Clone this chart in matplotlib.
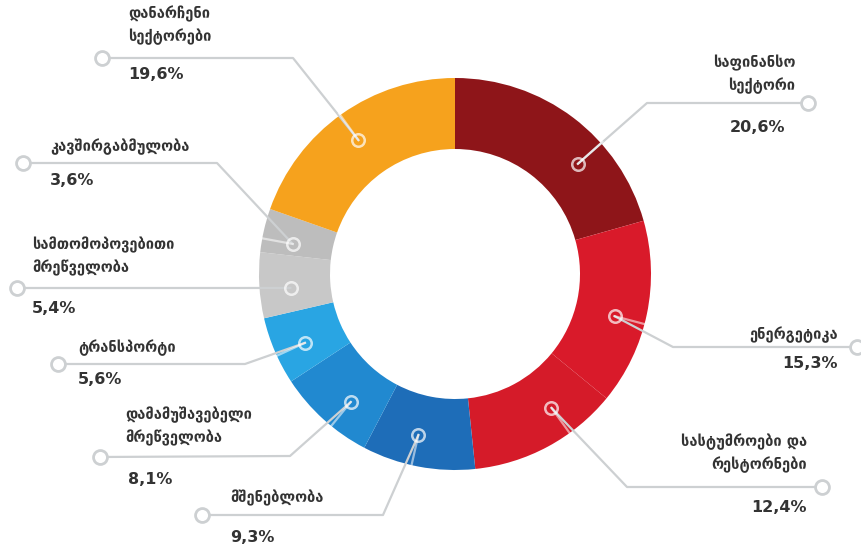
import numpy as np
import matplotlib.pyplot as plt

# sector shares, clockwise from the top
sectors = ["საფინანსო\nსექტორი", "ენერგეტიკა", "სასტუმროები და\nრესტორნები",
           "მშენებლობა", "დამამუშავებელი\nმრეწველობა", "ტრანსპორტი",
           "სამთომოპოვებითი\nმრეწველობა", "კავშირგაბმულობა",
           "დანარჩენი\nსექტორები"]
shares = [20.6, 15.3, 12.4, 9.3, 8.1, 5.6, 5.4, 3.6, 19.6]
pct_labels = ["20,6%", "15,3%", "12,4%", "9,3%", "8,1%", "5,6%", "5,4%", "3,6%", "19,6%"]
colors = ["#8e1519", "#d91a2a", "#d51b29", "#1e6db8", "#2189d0", "#29a5e3",
          "#c8c8c8", "#bdbdbd", "#f6a21d"]

W, H = 862, 550
cx, cy = 455, H - 274
R_OUT, R_IN = 196, 125

# layout (image pixel coords, y down)
ang_off = [-11, -3, 7.5, -2, 3, 1.5, 1.5, 2.4, 0.5]
elbows = [(647, 103), (673, 347), (627, 487), (383, 515), (290, 456),
          (245, 364), (240, 288), (217, 163), (293, 58)]
ends = [(808, 103), (857, 347), (822, 487), (202, 515), (100, 457),
        (58, 364), (17, 288), (23, 163), (102, 58)]
title_xy = [(795, 74), (838, 335), (807, 453), (230, 498), (125, 426),
            (78, 348), (32, 256), (50, 147), (128, 25)]
pct_xy = [(785, 127), (838, 363), (807, 508), (230, 538), (128, 480),
          (78, 380), (32, 308), (50, 180), (128, 74)]
align = ["right", "right", "right", "left", "left", "left", "left", "left", "left"]

fig = plt.figure(figsize=(W / 100, H / 100), dpi=100)
ax = fig.add_axes([0, 0, 1, 1])
wedges, _ = ax.pie(shares, colors=colors, startangle=90, counterclock=False,
                   radius=R_OUT, center=(cx, cy),
                   wedgeprops=dict(width=R_OUT - R_IN, linewidth=0))
ax.set_xlim(0, W)
ax.set_ylim(0, H)
ax.set_aspect('equal')
ax.axis('off')

line_c = '#cdd0d2'
r_mark = 165
for i, w in enumerate(wedges):
    a = np.deg2rad((w.theta1 + w.theta2) / 2 + ang_off[i])
    mx, my = cx + r_mark * np.cos(a), cy + r_mark * np.sin(a)
    ex, ey = elbows[i][0], H - elbows[i][1]
    tx, ty = ends[i][0], H - ends[i][1]
    ax.plot([mx, ex, tx], [my, ey, ty], color=line_c, lw=1.6, zorder=3,
            solid_capstyle='round')
    # lighter part of the leader over the ring
    ro = R_OUT + 2
    ox, oy = cx + ro * np.cos(a), cy + ro * np.sin(a)
    if i != 6:
        ax.plot([mx, ox], [my, oy], color='white', alpha=0.55, lw=1.6, zorder=4)
    ax.plot(mx, my, 'o', ms=9, mfc='none', mec='white', mew=1.8, alpha=0.7, zorder=5)
    ax.plot(tx, ty, 'o', ms=10, mfc='white', mec=line_c, mew=2, zorder=5)

    ax.text(title_xy[i][0], H - title_xy[i][1], sectors[i], ha=align[i],
            va='center', multialignment=align[i], fontsize=10.5,
            fontweight='bold', color='#333333', linespacing=1.5)
    ax.text(pct_xy[i][0], H - pct_xy[i][1], pct_labels[i], ha=align[i],
            va='center', fontsize=11.5, fontweight='bold', color='#333333')

plt.savefig("out.png", dpi=100)
